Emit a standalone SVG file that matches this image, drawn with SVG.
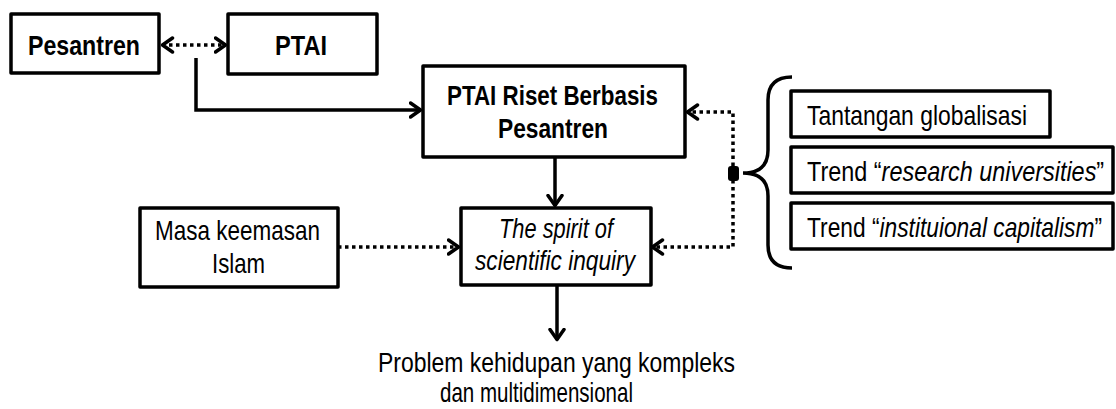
<svg xmlns="http://www.w3.org/2000/svg" width="1116" height="409" viewBox="0 0 1116 409">
<style>
.box{fill:#fff;stroke:#000;stroke-width:3.5;stroke-linejoin:round}
.t{font-family:"Liberation Sans",Arial,sans-serif;font-size:28px;fill:#000}
.b{font-weight:bold}
.i{font-style:italic}
.ln{fill:none;stroke:#000;stroke-width:3.5}
.dot{fill:none;stroke:#000;stroke-width:3.5;stroke-dasharray:3.5 3.5}
</style>
<defs>
<marker id="ah" viewBox="0 0 14 18" refX="12.5" refY="9" markerWidth="14" markerHeight="18" markerUnits="userSpaceOnUse" orient="auto-start-reverse">
<path d="M2,2 L12,9 L2,16" fill="none" stroke="#000" stroke-width="3.5" stroke-linecap="round" stroke-linejoin="round"/>
</marker>
</defs>
<g id="connectors">
<path class="dot" d="M162,45 H226" marker-start="url(#ah)" marker-end="url(#ah)"/>
<path class="ln" d="M196,58 V110 H421" marker-end="url(#ah)"/>
<path class="ln" d="M555,157 V206" marker-end="url(#ah)"/>
<path class="ln" d="M557,285 V340" marker-end="url(#ah)"/>
<path class="dot" d="M338,247 H459" marker-end="url(#ah)"/>
<path class="dot" d="M733,173 V112 H687" marker-end="url(#ah)"/>
<path class="dot" d="M733,173 V247 H652" marker-end="url(#ah)"/>
<rect x="728" y="166" width="11" height="15" rx="3" fill="#000"/>
<path class="ln" d="M792,77 Q768,77 768,100 V150 Q768,173 743,173 Q768,173 768,196 V245 Q768,268 792,268"/>
</g>
<g id="n-pesantren">
<rect class="box" x="11" y="14" width="148" height="59"/>
<text class="t b" x="28" y="55" textLength="112" lengthAdjust="spacingAndGlyphs">Pesantren</text>
</g>
<g id="n-ptai">
<rect class="box" x="228" y="14" width="149" height="60"/>
<text class="t b" x="275" y="55" textLength="52" lengthAdjust="spacingAndGlyphs">PTAI</text>
</g>
<g id="n-ptai-riset">
<rect class="box" x="423" y="66" width="262" height="91"/>
<text class="t b" x="447" y="105" textLength="211" lengthAdjust="spacingAndGlyphs">PTAI Riset Berbasis</text>
<text class="t b" x="498" y="138" textLength="110" lengthAdjust="spacingAndGlyphs">Pesantren</text>
</g>
<g id="n-spirit">
<rect class="box" x="461" y="208" width="190" height="77"/>
<text class="t i" x="499" y="238" textLength="114" lengthAdjust="spacingAndGlyphs">The spirit of</text>
<text class="t i" x="475" y="270" textLength="160" lengthAdjust="spacingAndGlyphs">scientific inquiry</text>
</g>
<g id="n-masa">
<rect class="box" x="140" y="208" width="198" height="79"/>
<text class="t" x="155" y="240" textLength="165" lengthAdjust="spacingAndGlyphs">Masa keemasan</text>
<text class="t" x="212" y="273" textLength="53" lengthAdjust="spacingAndGlyphs">Islam</text>
</g>
<g id="n-tantangan">
<rect class="box" x="791" y="91" width="259" height="46"/>
<text class="t" x="807" y="125" textLength="220" lengthAdjust="spacingAndGlyphs">Tantangan globalisasi</text>
</g>
<g id="n-research">
<rect class="box" x="791" y="147" width="322" height="46"/>
<text class="t" transform="translate(807,181) scale(0.837,1)" x="0" y="0">Trend “<tspan class="i">research universities</tspan>”</text>
</g>
<g id="n-capitalism">
<rect class="box" x="791" y="203" width="322" height="46"/>
<text class="t" transform="translate(807,237) scale(0.813,1)" x="0" y="0">Trend “<tspan class="i">instituional capitalism</tspan>”</text>
</g>
<g id="n-problem">
<text class="t" x="378" y="372" textLength="357" lengthAdjust="spacingAndGlyphs">Problem kehidupan yang kompleks</text>
<text class="t" x="440" y="402" textLength="193" lengthAdjust="spacingAndGlyphs">dan multidimensional</text>
</g>
</svg>
